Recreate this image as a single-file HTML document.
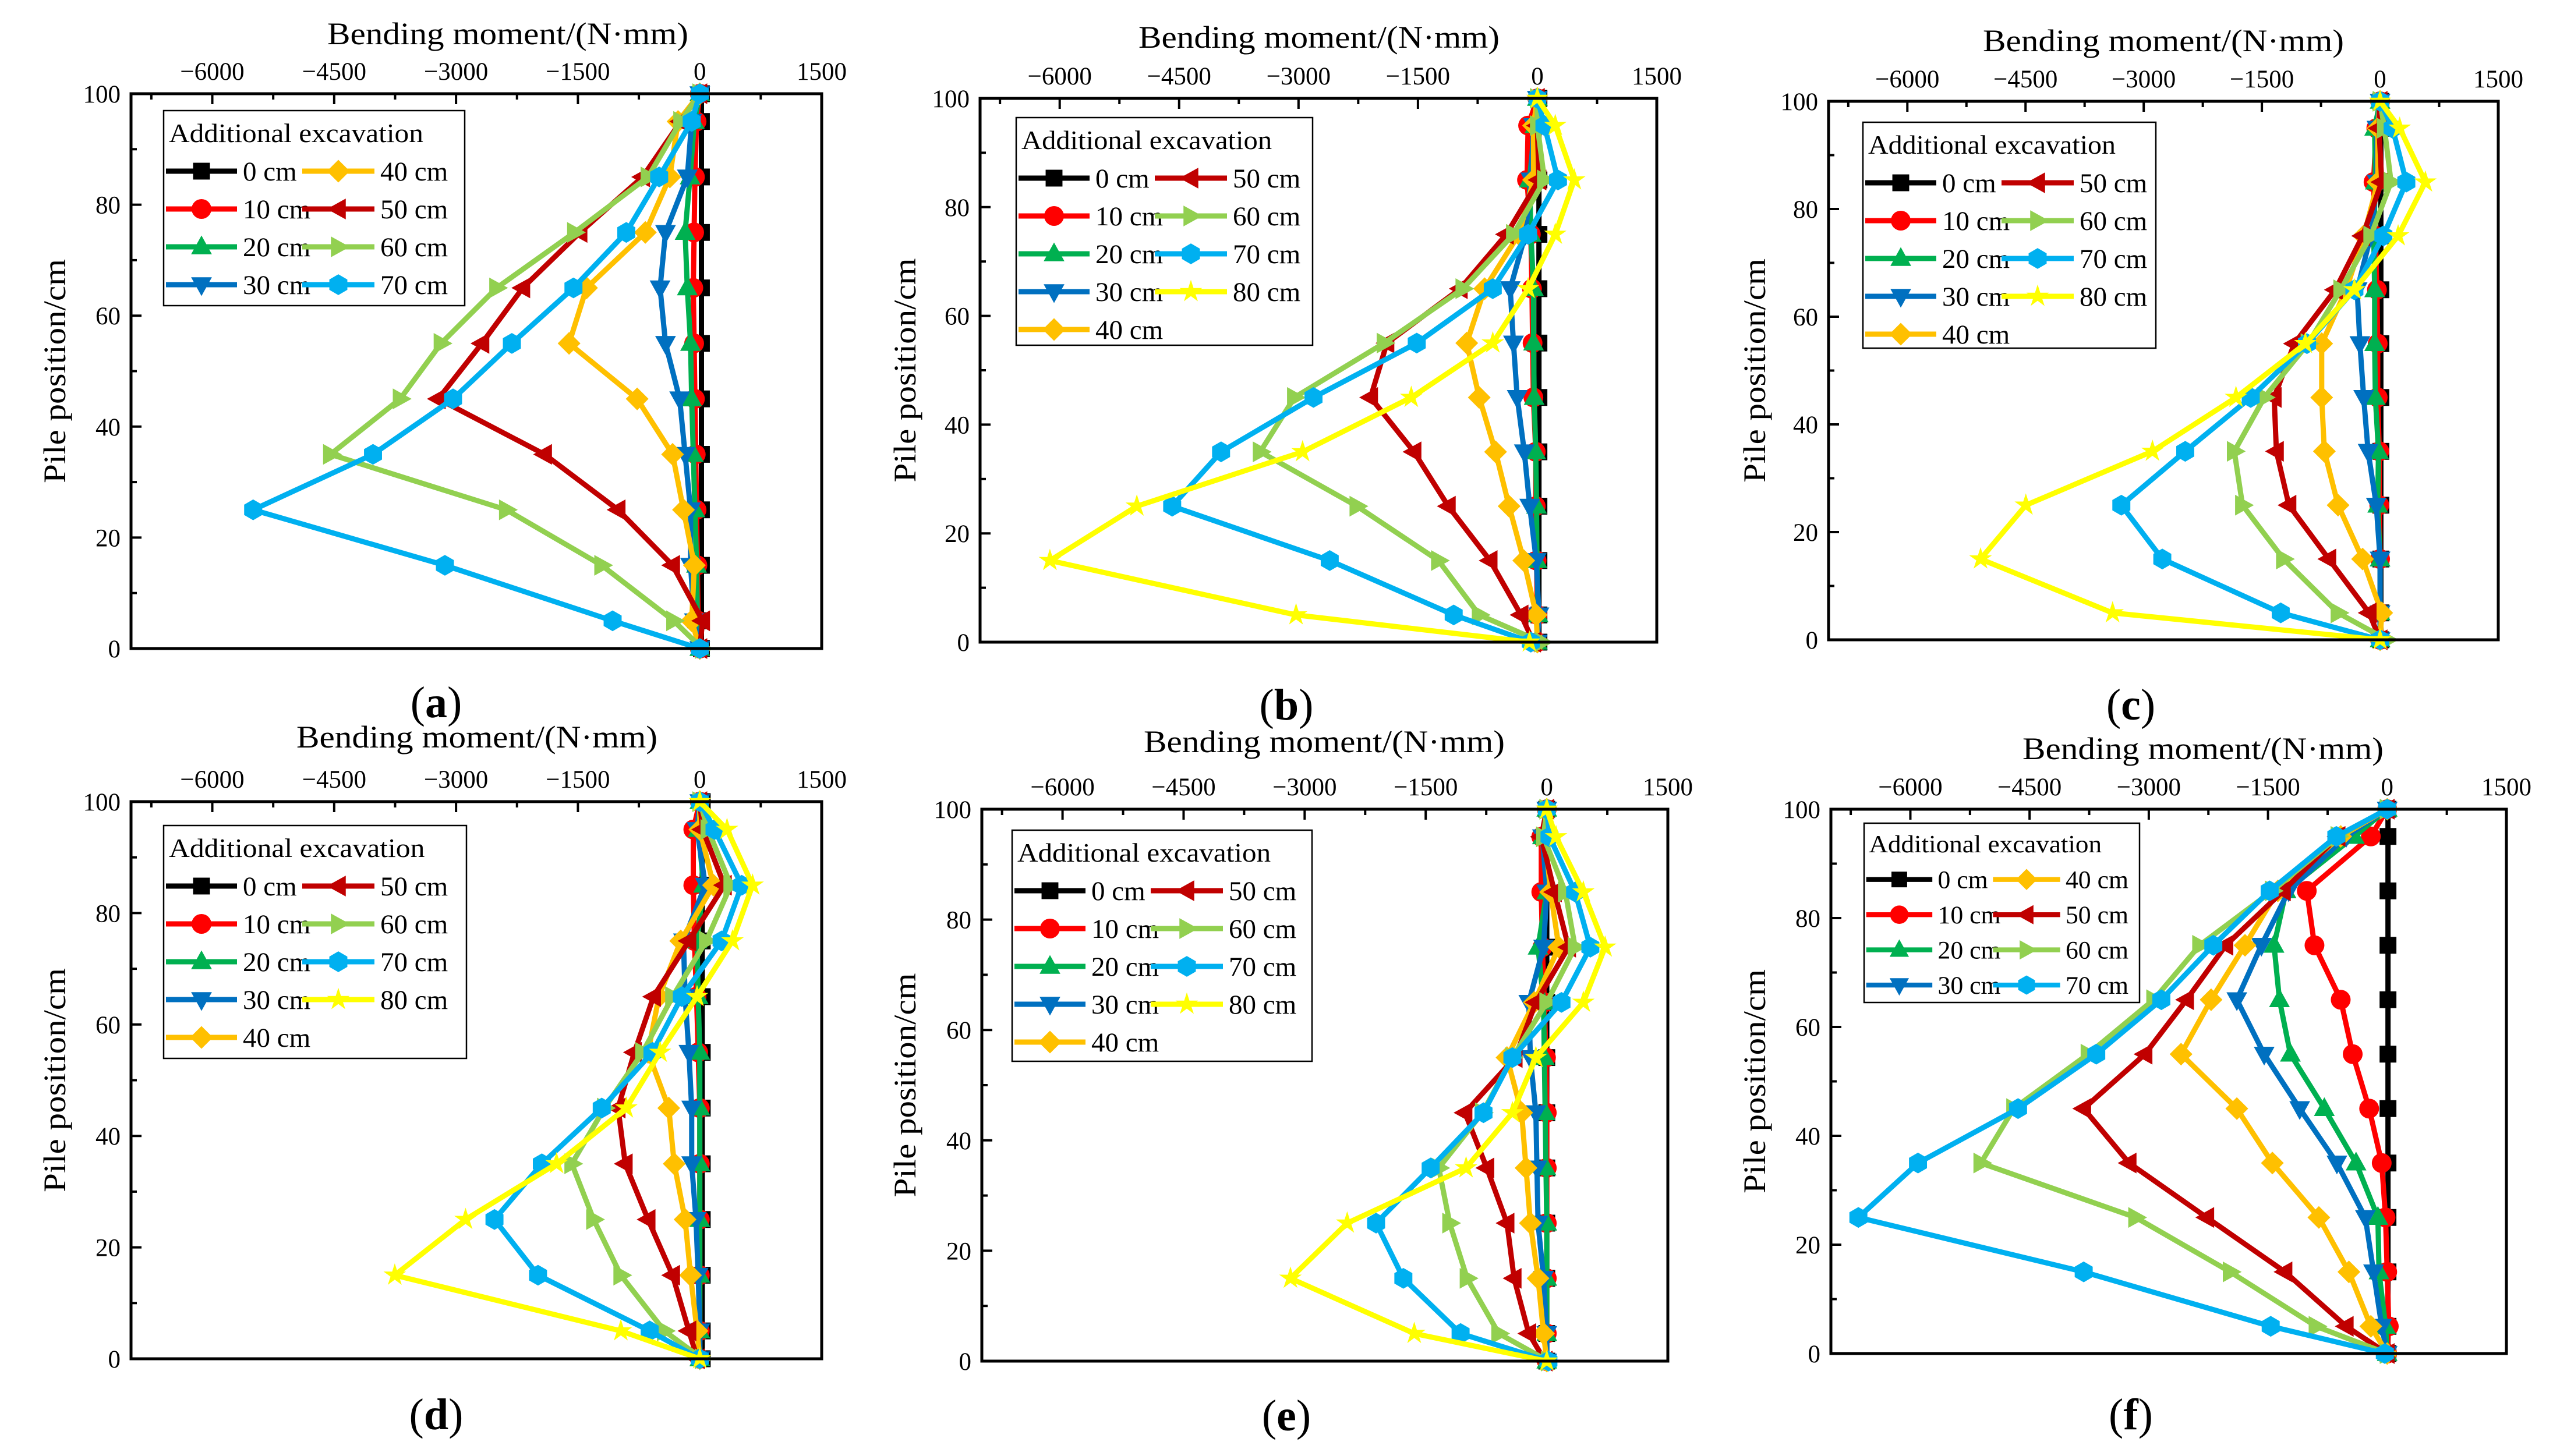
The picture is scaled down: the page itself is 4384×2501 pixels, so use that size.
<!DOCTYPE html>
<html><head><meta charset="utf-8"><style>
html,body{margin:0;padding:0;background:#fff}
svg{display:block}
svg text{font-family:"Liberation Serif","DejaVu Serif",serif;fill:#000}
</style></head><body>
<svg id="fig" xmlns="http://www.w3.org/2000/svg" width="4384" height="2501" viewBox="0 0 4384 2501" font-family="Liberation Serif, serif"></svg>
<script>
const depths = [100,95,85,75,65,55,45,35,25,15,5,0];
const seriesNames = ['0 cm','10 cm','20 cm','30 cm','40 cm','50 cm','60 cm','70 cm','80 cm'];
const xTicks = [-6000,-4500,-3000,-1500,0,1500];
const yTicks = [0,20,40,60,80,100];

const a0=[20,20,20,20,20,20,20,20,20,20,20,20];
const a10=[0,-40,-60,-70,-80,-70,-60,-50,-40,-30,-20,0];
const a20=[0,-67,-120,-181,-154,-114,-100,-80,-60,-40,-30,0];
const a30=[0,-100,-154,-422,-489,-422,-248,-181,-114,-114,-67,0];
const a40=[0,-268,-369,-670,-1394,-1609,-771,-335,-201,-67,-100,0];
const a50=[0,-235,-704,-1475,-2179,-2682,-3218,-1911,-1006,-335,34,0];
const a60=[0,-235,-637,-1542,-2500,-3184,-3687,-4545,-2380,-1207,-322,30];
const a70=[0,-100,-500,-905,-1555,-2313,-3037,-4022,-5497,-3137,-1073,0];

const b0=[20,20,20,20,20,20,20,20,20,20,20,20];
const b10=[0,-116,-130,-82,-68,-60,-50,-20,-20,-10,0,0];
const b20=[0,-30,-100,-80,-48,-48,-40,-20,-10,-5,10,0];
const b30=[0,-48,-82,-150,-341,-300,-253,-164,-96,-14,20,0];
const b40=[0,-48,-48,-232,-662,-887,-730,-525,-355,-171,-14,0];
const b50=[0,0,20,-389,-969,-1890,-2095,-1550,-1119,-594,-205,-48];
const b60=[0,0,89,-300,-935,-1925,-3051,-3481,-2266,-1242,-730,55];
const b70=[0,89,259,-116,-560,-1515,-2812,-3973,-4587,-2608,-1051,-82];
const b80=[0,225,464,225,-116,-560,-1584,-2949,-5031,-6123,-3031,-100];

const c0=[10,10,10,10,10,10,10,10,10,10,10,10];
const c10=[0,-48,-83,-60,-40,-30,-30,-10,-10,0,0,0];
const c20=[0,-69,-60,-80,-69,-69,-60,-20,-30,0,0,0];
const c30=[0,-40,-40,-118,-291,-256,-208,-152,-48,0,0,0];
const c40=[0,-28,-28,-208,-430,-741,-741,-707,-533,-222,21,0];
const c50=[0,-14,21,-222,-568,-1088,-1344,-1316,-1157,-651,-139,0];
const c60=[0,55,139,-118,-499,-914,-1469,-1850,-1746,-1226,-533,90];
const c70=[0,159,333,42,-326,-928,-1642,-2473,-3284,-2764,-1261,0];
const c80=[0,249,575,229,-326,-949,-1829,-2889,-4496,-5071,-3395,0];

const d0=[30,30,30,30,30,30,30,30,30,30,30,30];
const d10=[0,-80,-80,-67,-40,-20,0,0,0,0,0,0];
const d20=[0,-20,47,-34,-20,0,0,0,0,0,0,0];
const d30=[0,-34,67,-201,-181,-134,-100,-100,-47,-20,0,0];
const d40=[0,0,168,-235,-503,-637,-382,-315,-181,-114,-34,0];
const d50=[0,34,302,-134,-570,-805,-1006,-918,-637,-335,-134,-30];
const d60=[0,100,382,80,-335,-704,-1173,-1575,-1307,-972,-436,30];
const d70=[0,181,516,268,-221,-583,-1207,-1944,-2527,-1991,-617,0];
const d80=[0,335,650,402,-34,-489,-905,-1763,-2883,-3754,-972,0];

const e0=[0,0,0,0,0,0,0,0,0,0,0,0];
const e10=[0,-68,-68,-54,-30,-10,0,0,0,0,0,0];
const e20=[0,-54,0,-108,-40,-30,-20,-10,0,0,0,0];
const e30=[0,-54,0,-40,-223,-203,-135,-122,-108,-40,0,0];
const e40=[0,-20,47,149,-155,-493,-311,-257,-203,-108,-40,0];
const e50=[0,-68,95,270,-135,-392,-1014,-743,-493,-405,-223,-20];
const e60=[0,-40,230,351,0,-426,-797,-1338,-1203,-987,-595,20];
const e70=[0,34,351,540,182,-426,-784,-1439,-2115,-1777,-1068,20];
const e80=[0,115,453,723,453,-135,-426,-1000,-2473,-3176,-1642,0];

const f0=[10,10,10,10,10,10,10,10,10,10,10,10];
const f10=[0,-206,-1012,-915,-585,-434,-227,-69,-21,0,20,0];
const f20=[0,-413,-1273,-1424,-1356,-1218,-791,-392,-117,-103,-21,0];
const f30=[0,-516,-1239,-1583,-1892,-1548,-1101,-633,-275,-172,-69,0];
const f40=[0,-585,-1376,-1789,-2216,-2594,-1892,-1445,-860,-482,-206,0];
const f50=[0,-619,-1307,-2030,-2525,-3048,-3819,-3248,-2271,-1287,-516,0];
const f60=[0,-619,-1445,-2360,-2938,-3764,-4700,-5113,-3165,-1975,-895,0];
const f70=[0,-640,-1479,-2188,-2842,-3661,-4645,-5904,-6654,-3819,-1466,-30];

const colors=['#000000','#ff0000','#00b050','#0070c0','#ffc000','#c00000','#92d050','#00b0f0','#ffff00'];
const markers=['square','circle','tri-up','tri-down','diamond','tri-left','tri-right','hexagon','star'];

const panels=[
 {id:'a',l:225,r:1411,t:161,b:1114,tx:872,ty:76,yl:94,lx:749,ly:1232,series:[a0,a10,a20,a30,a40,a50,a60,a70],
  leg:{x:281,y:190,w:517,h:335,s:1,col1:[0,1,2,3],col2:[4,5,6,7]}},
 {id:'b',l:1683,r:2845,t:169,b:1103,tx:2265,ty:82,yl:1554,lx:2209,ly:1236,series:[b0,b10,b20,b30,b40,b50,b60,b70,b80],
  leg:{x:1745,y:202,w:509,h:391,s:1,col1:[0,1,2,3,4],col2:[5,6,7,8]}},
 {id:'c',l:3140,r:4290,t:174,b:1099,tx:3715,ty:88,yl:3013,lx:3659,ly:1236,series:[c0,c10,c20,c30,c40,c50,c60,c70,c80],
  leg:{x:3199,y:210,w:503,h:388,s:1,col1:[0,1,2,3,4],col2:[5,6,7,8]}},
 {id:'d',l:225,r:1411,t:1377,b:2334,tx:819,ty:1284,yl:94,lx:749,ly:2455,series:[d0,d10,d20,d30,d40,d50,d60,d70,d80],
  leg:{x:281,y:1418,w:520,h:400,s:1,col1:[0,1,2,3,4],col2:[5,6,7,8]}},
 {id:'e',l:1686,r:2864,t:1390,b:2338,tx:2274,ty:1292,yl:1554,lx:2209,ly:2457,series:[e0,e10,e20,e30,e40,e50,e60,e70,e80],
  leg:{x:1738,y:1426,w:515,h:397,s:1,col1:[0,1,2,3,4],col2:[5,6,7,8]}},
 {id:'f',l:3144,r:4304,t:1390,b:2325,tx:3783,ty:1304,yl:3013,lx:3659,ly:2455,series:[f0,f10,f20,f30,f40,f50,f60,f70],
  leg:{x:3201,y:1414,w:473,h:308,s:0.93,col1:[0,1,2,3],col2:[4,5,6,7]}}
];
const XMIN=-7000, XMAX=1500;
const NS='http://www.w3.org/2000/svg';
const FONT='Liberation Serif, DejaVu Serif, serif';
const svg=document.getElementById('fig');
function mk(tag,attrs,parent){const e=document.createElementNS(NS,tag);for(const k in attrs)e.setAttribute(k,attrs[k]);if(tag==='text')e.setAttribute('font-family',FONT);(parent||svg).appendChild(e);return e;}

function markerEl(g,type,cx,cy,r,color){
  let e;
  if(type==='square'){e=mk('rect',{x:cx-r*0.85,y:cy-r*0.85,width:r*1.7,height:r*1.7,fill:color},g);}
  else if(type==='circle'){e=mk('circle',{cx:cx,cy:cy,r:r,fill:color},g);}
  else {
    let pts=[];
    if(type==='tri-up')pts=[[0,-1.15],[1.05,0.75],[-1.05,0.75]];
    else if(type==='tri-down')pts=[[0,1.15],[1.05,-0.75],[-1.05,-0.75]];
    else if(type==='tri-left')pts=[[-1.15,0],[0.75,-1.05],[0.75,1.05]];
    else if(type==='tri-right')pts=[[1.15,0],[-0.75,-1.05],[-0.75,1.05]];
    else if(type==='diamond')pts=[[0,-1.15],[1.15,0],[0,1.15],[-1.15,0]];
    else if(type==='hexagon'){for(let i=0;i<6;i++){const a=Math.PI/6+i*Math.PI/3;pts.push([Math.cos(a)*1.05,Math.sin(a)*1.05]);}}
    else if(type==='star'){for(let i=0;i<10;i++){const a=-Math.PI/2+i*Math.PI/5;const rr=i%2?0.45:1.2;pts.push([Math.cos(a)*rr,Math.sin(a)*rr]);}}
    e=mk('polygon',{points:pts.map(p=>(cx+p[0]*r)+','+(cy+p[1]*r)).join(' '),fill:color},g);
  }
  return e;
}

panels.forEach(p=>{
  const g=mk('g',{});
  
  
  const xs=v=>p.l+(v-XMIN)/(XMAX-XMIN)*(p.r-p.l);
  const ys=v=>p.b-(v/100)*(p.b-p.t);
  const tg=mk('g',{stroke:'#000','stroke-width':4},g);
  
  
  for(let v=-6750;v<=1500;v+=750){
    const major=(v%1500===0);
    const x=xs(v);
    mk('line',{x1:x,y1:p.t,x2:x,y2:p.t+(major?18:10)},tg);
  }
  const yg=mk('g',{stroke:'#000','stroke-width':4},g);
  
  
  for(let v=0;v<=100;v+=10){
    const major=(v%20===0);
    const y=ys(v);
    mk('line',{x1:p.l,y1:y,x2:p.l+(major?18:10),y2:y},yg);
  }
  xTicks.forEach(v=>{
    const t=mk('text',{x:xs(v),y:p.t-24,'font-size':43,'text-anchor':'middle'},g);
    
    
    t.textContent=(v<0?'\u2212'+(-v):String(v));
  });
  yTicks.forEach(v=>{
    const t=mk('text',{x:p.l-18,y:ys(v)+15,'font-size':43,'text-anchor':'end'},g);
    
    
    t.textContent=String(v);
  });
  const xt=mk('text',{x:p.tx,y:p.ty,'font-size':54,'text-anchor':'middle',textLength:620,lengthAdjust:'spacingAndGlyphs'},g);
  
  
  xt.textContent='Bending moment/(N\u00b7mm)';
  const cy=(p.t+p.b)/2;
  const yt=mk('text',{x:p.yl+18,y:cy,'font-size':54,'text-anchor':'middle',transform:'rotate(-90 '+(p.yl+18)+' '+cy+')',textLength:385,lengthAdjust:'spacingAndGlyphs'},g);
  
  
  yt.textContent='Pile position/cm';
  p.series.forEach((arr,si)=>{
    const sg=mk('g',{},g);
    
    
    const pts=arr.map((v,i)=>xs(v)+','+ys(depths[i])).join(' ');
    mk('polyline',{points:pts,fill:'none',stroke:colors[si],'stroke-width':9,'stroke-linejoin':'round'},sg);
    arr.forEach((v,i)=>{
      const m=markerEl(sg,markers[si],xs(v),ys(depths[i]),17,colors[si]);
      
      
    });
  });
  const fr=mk('rect',{x:p.l,y:p.t,width:p.r-p.l,height:p.b-p.t,fill:'none',stroke:'#000','stroke-width':5},g);
  
  
  const L=p.leg, s=L.s;
  const lg=mk('g',{},g);
  
  
  mk('rect',{x:L.x,y:L.y,width:L.w,height:L.h,fill:'#fff',stroke:'#000','stroke-width':2.5},lg);
  const lt=mk('text',{x:L.x+9*s,y:L.y+54*s,'font-size':46*s,textLength:L.w*0.845,lengthAdjust:'spacingAndGlyphs'},lg);
  
  
  lt.textContent='Additional excavation';
  const entry=(si,row,col)=>{
    const cyr=L.y+(104+row*65)*s;
    const x1=L.x+(col?238:4)*s, x2=L.x+(col?362:126)*s;
    const eg=mk('g',{},lg);
    
    
    mk('line',{x1:x1,y1:cyr,x2:x2,y2:cyr,stroke:colors[si],'stroke-width':9*s},eg);
    markerEl(eg,markers[si],(x1+x2)/2,cyr,17*s,colors[si]);
    const t=mk('text',{x:L.x+(col?372:136)*s,y:cyr+16*s,'font-size':47*s},eg);
    t.textContent=seriesNames[si];
  };
  L.col1.forEach((si,i)=>entry(si,i,0));
  L.col2.forEach((si,i)=>entry(si,i,1));
  const pl=mk('text',{x:p.lx,y:p.ly,'font-size':76,'text-anchor':'middle'},g);
  
  
  pl.innerHTML='(<tspan font-weight="bold">'+p.id+'</tspan>)';
});
</script>
</body></html>
